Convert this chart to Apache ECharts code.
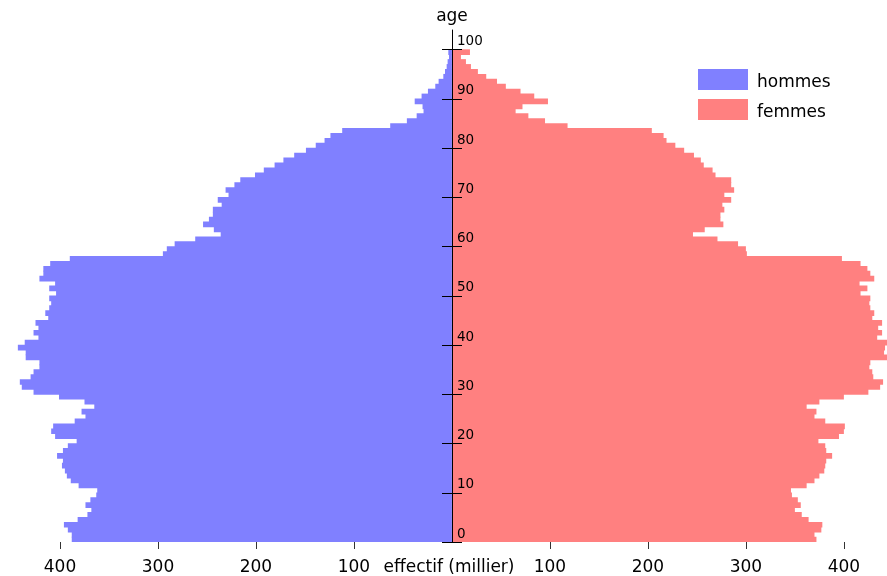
<!DOCTYPE html>
<html>
<head>
<meta charset="utf-8">
<script src="https://cdn.jsdelivr.net/npm/echarts@6/dist/echarts.min.js"></script>
<style>
  html, body { margin: 0; padding: 0; background: #fff; }
  #pyramide { width: 887px; height: 576px; }
</style>
</head>
<body>
<div id="pyramide"></div>
<script>
// ages 0..103, effectifs en milliers
const ages = [];
for (let a = 0; a <= 103; a++) ages.push(String(a));

const hommes = [
  388, 388, 392, 396, 382, 372, 368, 374, 369, 363,
  362, 381, 389, 393, 395, 398, 397, 403, 397, 392,
  383, 405, 409, 407, 385, 374, 378, 365, 375, 401,
  427, 439, 441, 430, 427, 421, 421, 435, 435, 443,
  436, 422, 427, 422, 425, 412, 415, 411, 409, 411,
  404, 411, 405, 421, 417, 417, 410, 390, 295, 291,
  283, 262, 236, 243, 254, 248, 244, 244, 235, 239,
  228, 231, 222, 216, 201, 192, 181, 172, 161, 149,
  139, 130, 124, 112, 63, 46, 36, 29, 30, 38,
  31, 24.5, 17, 13.6, 8.8, 7.1, 5.4, 4.4, 3, 3.7,
  0, 0, 0, 0
];

const femmes = [
  372, 370, 377, 378, 364, 357, 350, 356, 353, 347,
  346, 362, 370, 375, 380, 381, 382, 388, 382, 381,
  374, 395, 400, 401, 381, 370, 372, 362, 375, 400,
  425, 437, 440, 430, 429, 426, 427, 444, 441, 442,
  444, 434, 439, 435, 439, 429, 431, 427, 426, 427,
  417, 424, 416, 431, 427, 424, 417, 398, 301, 300,
  292, 271, 246, 258, 277, 274, 274, 278, 276, 285,
  278, 288, 285, 285, 269, 266, 257, 254, 247, 237,
  228, 219, 216, 204, 118, 95, 78, 65, 72, 98,
  84, 70, 55, 46, 35, 26.5, 19.4, 14.3, 9.2, 18.4,
  0, 0, 0, 0
];

const xTicks = [-400, -300, -200, -100, 100, 200, 300, 400];
const ageTicks = [0, 10, 20, 30, 40, 50, 60, 70, 80, 90, 100];

const chart = echarts.init(document.getElementById('pyramide'));

const option = {
  animation: false,
  textStyle: { fontFamily: 'DejaVu Sans' },
  grid: [
    { left: 11, right: 0, top: 30, bottom: 34, containLabel: false, outerBoundsMode: 'none' },
    // grille fine au centre, juste pour porter l'axe des ages
    { left: 452, width: 1, top: 30, bottom: 34, containLabel: false, outerBoundsMode: 'none' }
  ],
  legend: {
    orient: 'vertical',
    left: 698,
    top: 69,
    padding: 0,
    itemWidth: 50,
    itemHeight: 21,
    itemGap: 8,
    icon: 'rect',
    formatter: name => '{t|' + name + '}',
    textStyle: {
      fontSize: 17, color: '#000',
      rich: { t: { fontSize: 17, color: '#000', padding: [6, 0, 0, 4] } }
    },
    data: ['hommes', 'femmes']
  },
  xAxis: [
    {
      type: 'value',
      gridIndex: 0,
      min: -450,
      max: 444,
      name: 'effectif (millier)',
      nameLocation: 'middle',
      nameGap: 17,
      nameMoveOverlap: false,
      nameTextStyle: { fontSize: 17, color: '#000', verticalAlign: 'top' },
      axisLine: { onZero: false, lineStyle: { color: '#9a9a9a', width: 1 } },
      axisTick: { show: true, length: 7, lineStyle: { color: '#333' }, customValues: xTicks },
      axisLabel: {
        fontSize: 17, color: '#000', margin: 17, customValues: xTicks,
        formatter: v => String(Math.abs(v))
      },
      splitLine: { show: false }
    },
    { type: 'value', gridIndex: 1, min: 0, max: 1, show: false }
  ],
  yAxis: [
    {
      type: 'category',
      gridIndex: 0,
      data: ages,
      show: false
    },
    {
      type: 'value',
      gridIndex: 1,
      min: 0,
      max: 104,
      position: 'left',
      z: 5,
      name: 'age',
      nameLocation: 'end',
      nameGap: 5,
      nameTextStyle: { fontSize: 17, color: '#000' },
      axisLine: { show: true, onZero: false, lineStyle: { color: '#000', width: 1 } },
      axisTick: { show: true, inside: false, length: 10, lineStyle: { color: '#000' }, customValues: ageTicks },
      axisLabel: {
        inside: true, margin: 5, fontSize: 13.5, color: '#000',
        verticalAlign: 'bottom', padding: [0, 0, 1, 0], customValues: ageTicks
      },
      splitLine: { show: false }
    },
    {
      type: 'value',
      gridIndex: 1,
      min: 0,
      max: 104,
      position: 'left',
      z: 5,
      axisLine: { show: false, onZero: false },
      axisTick: { show: true, inside: true, length: 10, lineStyle: { color: '#000' }, customValues: ageTicks },
      axisLabel: { show: false },
      splitLine: { show: false }
    }
  ],
  series: [
    {
      name: 'hommes',
      type: 'bar',
      xAxisIndex: 0,
      yAxisIndex: 0,
      barGap: '-100%',
      barCategoryGap: '-16%',
      itemStyle: { color: '#8080ff' },
      data: hommes.map(v => -v)
    },
    {
      name: 'femmes',
      type: 'bar',
      xAxisIndex: 0,
      yAxisIndex: 0,
      barGap: '-100%',
      barCategoryGap: '-16%',
      itemStyle: { color: '#ff8080' },
      data: femmes
    }
  ]
};

chart.setOption(option);
</script>
</body>
</html>
